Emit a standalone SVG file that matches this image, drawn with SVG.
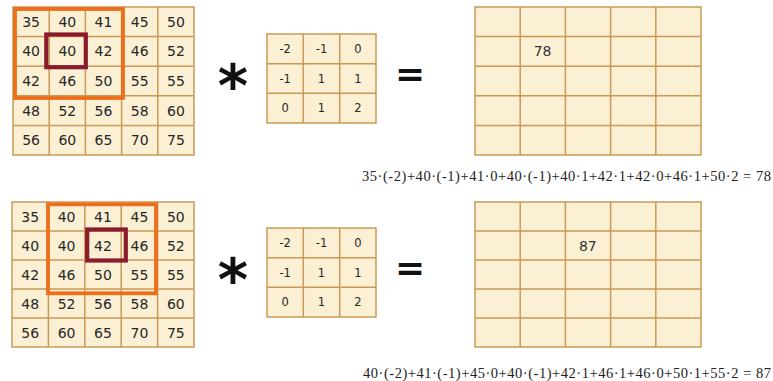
<svg xmlns="http://www.w3.org/2000/svg" width="773" height="381" viewBox="0 0 773 381">
<style>
.cell{fill:#fbefd4;stroke:#c99a55;stroke-width:1.5}
.gl{fill:none;stroke:#c99a55;stroke-width:1.5}
.n{font-family:"DejaVu Sans",Verdana,sans-serif;font-size:14px;fill:#262626;text-anchor:middle}
.k{font-family:"DejaVu Sans",Verdana,sans-serif;font-size:11.5px;fill:#262626;text-anchor:middle}
.o{font-family:"DejaVu Sans",Verdana,sans-serif;font-size:14px;fill:#333;text-anchor:middle}
.win{fill:none;stroke:#ec6e1b;stroke-width:3.8}
.ctr{fill:none;stroke:#8a1b2c;stroke-width:4.2}
.op{font-family:"DejaVu Sans",sans-serif;font-weight:bold;fill:#111;text-anchor:middle}
.f{font-family:"Liberation Serif","Times New Roman",serif;font-size:14.5px;fill:#222}
</style>
<rect width="773" height="381" fill="#ffffff"/>

<g id="input-top">
<rect class="cell" x="13" y="7" width="181" height="148"/>
<path class="gl" d="M49.2 7V155M85.4 7V155M121.6 7V155M157.8 7V155M13 36.6H194M13 66.2H194M13 95.8H194M13 125.4H194"/>
<g class="n">
<text x="31.1" y="26.8">35</text><text x="67.3" y="26.8">40</text><text x="103.5" y="26.8">41</text><text x="139.7" y="26.8">45</text><text x="175.9" y="26.8">50</text>
<text x="31.1" y="56.4">40</text><text x="67.3" y="56.4">40</text><text x="103.5" y="56.4">42</text><text x="139.7" y="56.4">46</text><text x="175.9" y="56.4">52</text>
<text x="31.1" y="86">42</text><text x="67.3" y="86">46</text><text x="103.5" y="86">50</text><text x="139.7" y="86">55</text><text x="175.9" y="86">55</text>
<text x="31.1" y="115.6">48</text><text x="67.3" y="115.6">52</text><text x="103.5" y="115.6">56</text><text x="139.7" y="115.6">58</text><text x="175.9" y="115.6">60</text>
<text x="31.1" y="145.2">56</text><text x="67.3" y="145.2">60</text><text x="103.5" y="145.2">65</text><text x="139.7" y="145.2">70</text><text x="175.9" y="145.2">75</text>
</g>
<rect class="win" x="15" y="9" width="108" height="89"/>
<rect class="ctr" x="46.3" y="34.5" width="39.5" height="32.7"/>
</g>

<g id="op-top">
<text class="op" x="233" y="106" font-size="58">*</text>
<text class="op" x="410" y="86" font-size="36">=</text>
</g>

<g id="kernel-top">
<rect class="cell" x="267" y="34" width="109" height="89"/>
<path class="gl" d="M303.3 34V123M339.7 34V123M267 63.7H376M267 93.3H376"/>
<g class="k">
<text x="285.2" y="52.8">-2</text><text x="321.5" y="52.8">-1</text><text x="357.8" y="52.8">0</text>
<text x="285.2" y="82.5">-1</text><text x="321.5" y="82.5">1</text><text x="357.8" y="82.5">1</text>
<text x="285.2" y="112.2">0</text><text x="321.5" y="112.2">1</text><text x="357.8" y="112.2">2</text>
</g>
</g>

<g id="output-top">
<rect class="cell" x="475" y="7" width="226" height="148"/>
<path class="gl" d="M520.2 7V155M565.4 7V155M610.6 7V155M655.8 7V155M475 36.6H701M475 66.2H701M475 95.8H701M475 125.4H701"/>
<text class="o" x="542.6" y="56.4">78</text>
</g>

<g id="formula-top">
<text class="f" x="362" y="180.5" textLength="409" lengthAdjust="spacing">35·(-2)+40·(-1)+41·0+40·(-1)+40·1+42·1+42·0+46·1+50·2 = 78</text>
</g>

<g id="input-bottom">
<rect class="cell" x="12" y="202" width="182" height="145"/>
<path class="gl" d="M48.4 202V347M84.8 202V347M121.2 202V347M157.6 202V347M12 231H194M12 260H194M12 289H194M12 318H194"/>
<g class="n">
<text x="30.2" y="221.5">35</text><text x="66.6" y="221.5">40</text><text x="103" y="221.5">41</text><text x="139.4" y="221.5">45</text><text x="175.8" y="221.5">50</text>
<text x="30.2" y="250.5">40</text><text x="66.6" y="250.5">40</text><text x="103" y="250.5">42</text><text x="139.4" y="250.5">46</text><text x="175.8" y="250.5">52</text>
<text x="30.2" y="279.5">42</text><text x="66.6" y="279.5">46</text><text x="103" y="279.5">50</text><text x="139.4" y="279.5">55</text><text x="175.8" y="279.5">55</text>
<text x="30.2" y="308.5">48</text><text x="66.6" y="308.5">52</text><text x="103" y="308.5">56</text><text x="139.4" y="308.5">58</text><text x="175.8" y="308.5">60</text>
<text x="30.2" y="337.5">56</text><text x="66.6" y="337.5">60</text><text x="103" y="337.5">65</text><text x="139.4" y="337.5">70</text><text x="175.8" y="337.5">75</text>
</g>
<rect class="win" x="48" y="204.3" width="108" height="89"/>
<rect class="ctr" x="87.2" y="229.5" width="38.6" height="31"/>
</g>

<g id="op-bottom">
<text class="op" x="233" y="300" font-size="58">*</text>
<text class="op" x="410" y="280" font-size="36">=</text>
</g>

<g id="kernel-bottom">
<rect class="cell" x="267" y="228" width="109" height="89"/>
<path class="gl" d="M303.3 228V317M339.7 228V317M267 257.7H376M267 287.3H376"/>
<g class="k">
<text x="285.2" y="246.8">-2</text><text x="321.5" y="246.8">-1</text><text x="357.8" y="246.8">0</text>
<text x="285.2" y="276.5">-1</text><text x="321.5" y="276.5">1</text><text x="357.8" y="276.5">1</text>
<text x="285.2" y="306.2">0</text><text x="321.5" y="306.2">1</text><text x="357.8" y="306.2">2</text>
</g>
</g>

<g id="output-bottom">
<rect class="cell" x="475" y="202" width="226" height="145"/>
<path class="gl" d="M520.2 202V347M565.4 202V347M610.6 202V347M655.8 202V347M475 231H701M475 260H701M475 289H701M475 318H701"/>
<text class="o" x="587.8" y="250.5">87</text>
</g>

<g id="formula-bottom">
<text class="f" x="363" y="377.5" textLength="408" lengthAdjust="spacing">40·(-2)+41·(-1)+45·0+40·(-1)+42·1+46·1+46·0+50·1+55·2 = 87</text>
</g>
</svg>
